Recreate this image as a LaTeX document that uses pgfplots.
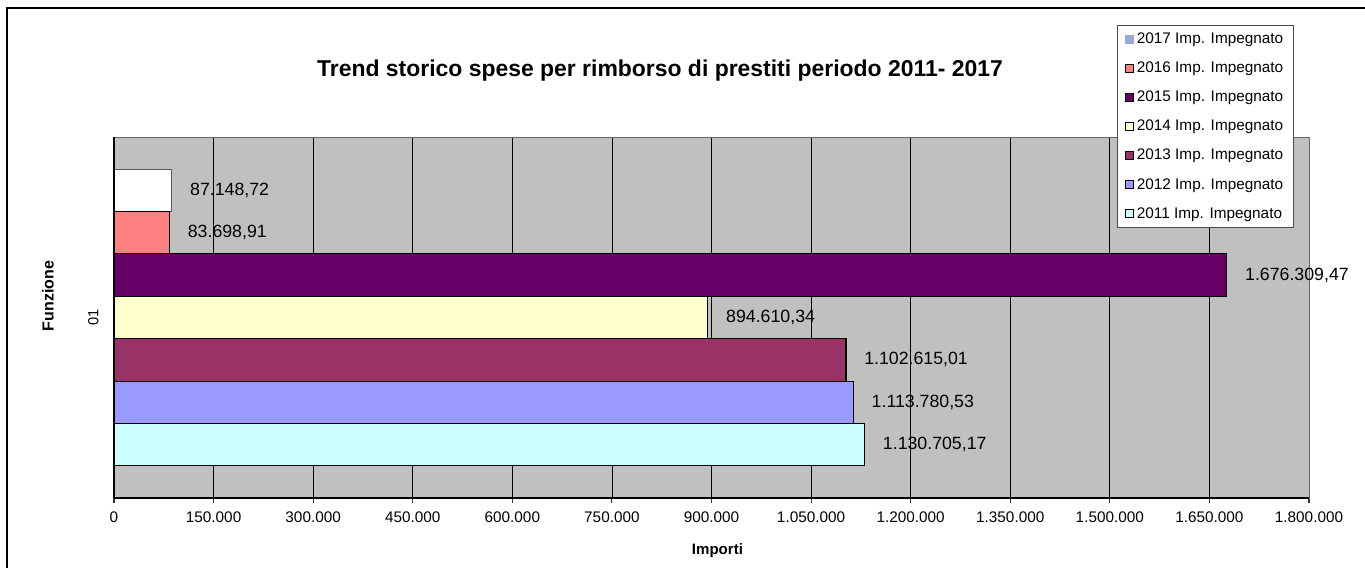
\documentclass[border=0pt]{standalone}
\usepackage{pgfplots}
\pgfplotsset{compat=1.18}
\usepackage{fontspec}
\setmainfont{Liberation Sans}
\definecolor{c17}{HTML}{FFFFFF}
\definecolor{c17leg}{HTML}{99A8D8}
\definecolor{c16}{HTML}{FF8080}
\definecolor{c15}{HTML}{660066}
\definecolor{c14}{HTML}{FFFFCC}
\definecolor{c13}{HTML}{993366}
\definecolor{c12}{HTML}{9999FF}
\definecolor{c11}{HTML}{CCFFFF}
\definecolor{plotbg}{HTML}{C0C0C0}
\begin{document}
\begin{tikzpicture}[x=1pt,y=1pt]
\useasboundingbox (-85.5,-52.5) rectangle (938.25,373.5);
\fill[white] (-85.5,-52.5) rectangle (938.25,373.5);
\draw[black, line width=0.9pt] (-80.25,-60) -- (-80.25,367.5) -- (945,367.5);
\begin{axis}[
  at={(0,0)}, anchor=south west,
  scale only axis,
  width=896.25pt, height=270.75pt,
  xbar, bar width=0.1175,
  xmin=0, xmax=1800000,
  ymin=-0.5, ymax=0.5,
  scaled x ticks=false,
  xtick={0,150000,300000,450000,600000,750000,900000,1050000,1200000,1350000,1500000,1650000,1800000},
  xticklabels={0,150.000,300.000,450.000,600.000,750.000,900.000,1.050.000,1.200.000,1.350.000,1.500.000,1.650.000,1.800.000},
  ytick={0}, yticklabels={01},
  yticklabel style={rotate=90, anchor=south, font=\fontsize{11}{13}\selectfont},
  yticklabel shift=4pt,
  extra y ticks={-0.5,0.5}, extra y tick labels={},
  extra y tick style={major tick length=5pt, tick align=outside, tick style={black!80, line width=0.8pt}},
  y tick style={draw=none},
  x tick style={black!80, line width=0.8pt},
  major tick length=4pt, tick align=outside,
  xtick pos=bottom, ytick pos=left,
  xticklabel style={font=\fontsize{11.5}{13}\selectfont, yshift=-3pt},
  /pgf/number format/assume math mode=true,
  xmajorgrids, grid style={black, line width=0.6pt},
  axis background/.style={fill=plotbg},
  axis line style={draw=gray!80!black, line width=0.6pt},
  point meta=explicit symbolic,
  nodes near coords,
  nodes near coords style={anchor=west, xshift=10pt, font=\fontsize{13.3}{15}\selectfont, text=black},
  every axis plot/.append style={draw=black, line width=0.8pt},
  legend style={at={(0.839,1.31)}, anchor=north west, draw=black!70, line width=0.6pt,
    font=\fontsize{11.5}{14}\selectfont, row sep=8.3pt, inner xsep=6pt, inner ysep=3.5pt,
    /tikz/every even column/.append style={column sep=0pt}},
  legend cell align=left,
  legend image code/.code={\draw[#1, line width=0.9pt] (0pt,-3pt) rectangle (6pt,3pt);},
  clip=false,
]
\addplot[fill=c17, draw=gray!70!black, bar shift=0.3525,
  legend image code/.code={\fill[c17leg] (0pt,-3pt) rectangle (6pt,3pt);}]
  coordinates {(87148.72,0) [87.148,72]};
\addplot[fill=c16, bar shift=0.235] coordinates {(83698.91,0) [83.698,91]};
\addplot[fill=c15, bar shift=0.1175] coordinates {(1676309.47,0) [1.676.309,47]};
\addplot[fill=c14, bar shift=0] coordinates {(894610.34,0) [894.610,34]};
\addplot[fill=c13, bar shift=-0.1175] coordinates {(1102615.01,0) [1.102.615,01]};
\addplot[fill=c12, bar shift=-0.235] coordinates {(1113780.53,0) [1.113.780,53]};
\addplot[fill=c11, bar shift=-0.3525] coordinates {(1130705.17,0) [1.130.705,17]};
\legend{2017 Imp. Impegnato,2016 Imp. Impegnato,2015 Imp. Impegnato,2014 Imp. Impegnato,2013 Imp. Impegnato,2012 Imp. Impegnato,2011 Imp. Impegnato}
\draw[black, line width=0.9pt] (rel axis cs:0,0) -- (rel axis cs:0,1);
\draw[black, line width=0.9pt] (rel axis cs:0,0) -- (rel axis cs:1,0);
\end{axis}
\node[font=\bfseries\fontsize{17.2}{19}\selectfont] at (409.5,320.25) {Trend storico spese per rimborso di prestiti periodo 2011- 2017};
\node[font=\bfseries\fontsize{11.3}{13}\selectfont] at (452.6,-39.75) {Importi};
\node[font=\bfseries\fontsize{12}{14}\selectfont, rotate=90] at (-49.5,151.5) {Funzione};
\end{tikzpicture}
\end{document}
